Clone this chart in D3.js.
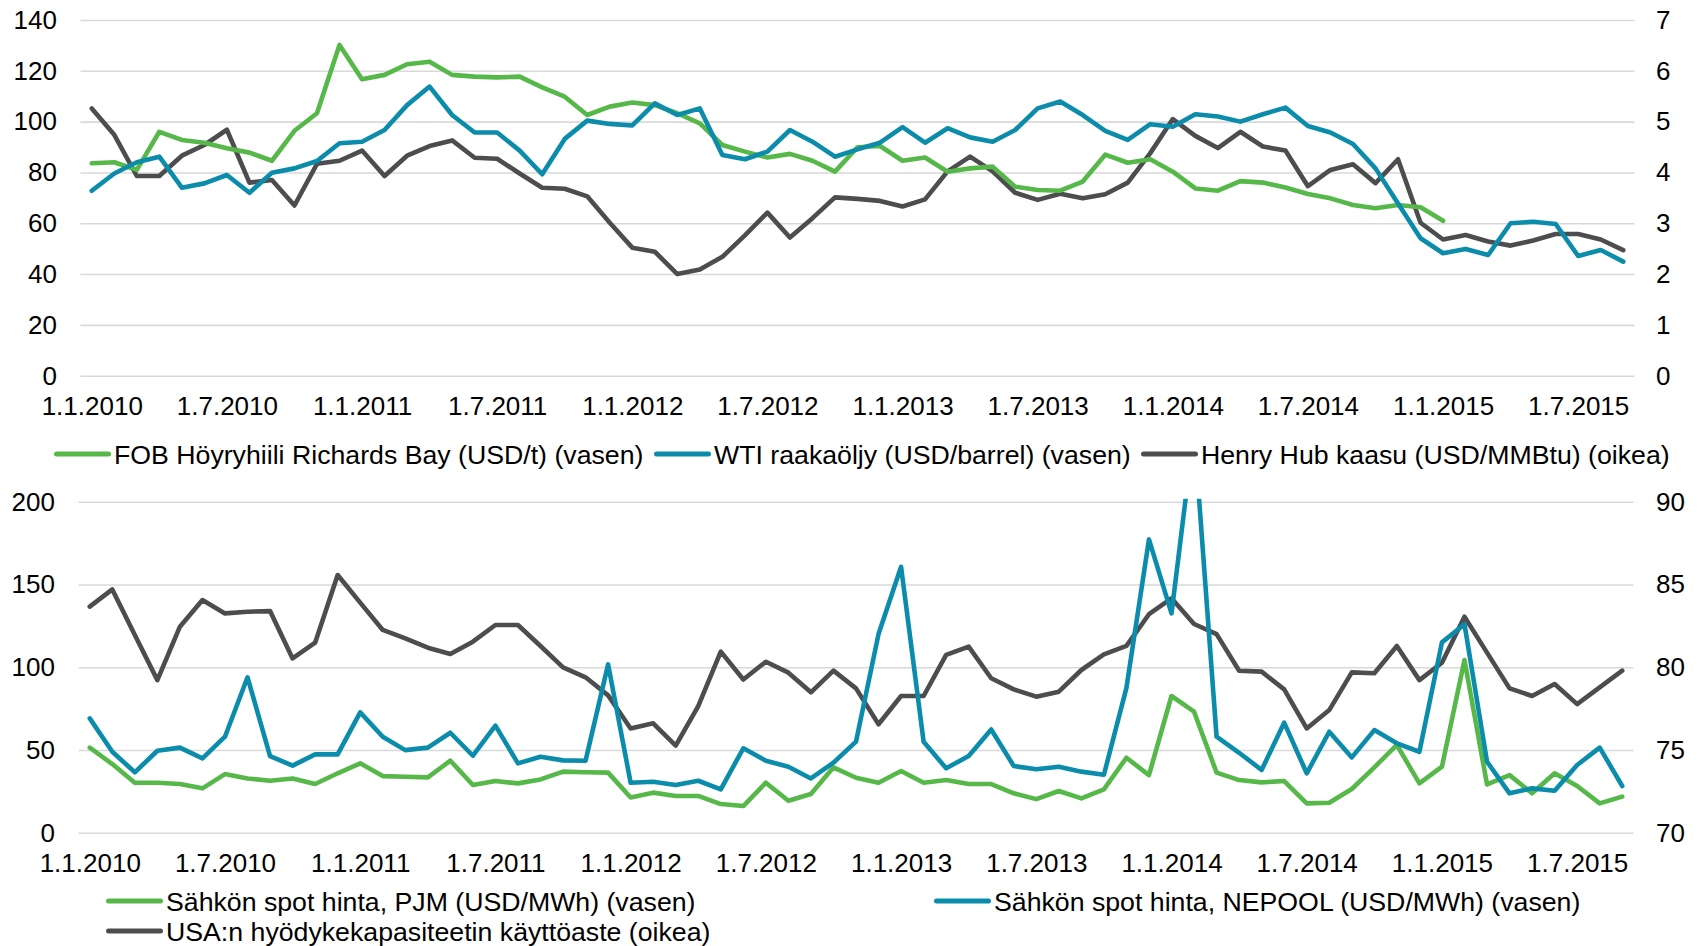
<!DOCTYPE html>
<html>
<head>
<meta charset="utf-8">
<script src="https://cdn.jsdelivr.net/npm/d3@7"></script>
<style>
  html, body { margin: 0; padding: 0; background: #fff; }
  svg { display: block; }
  text { font-family: "Liberation Sans", Arial, sans-serif; fill: #000; }
</style>
</head>
<body>
<svg id="chart" width="1701" height="946"></svg>
<script>
// Monthly observations, January 2010 - September 2015
const startMonth = new Date(2010, 0, 1);
const monthCount = 69;
const tickLabels = ["1.1.2010", "1.7.2010", "1.1.2011", "1.7.2011", "1.1.2012", "1.7.2012",
                    "1.1.2013", "1.7.2013", "1.1.2014", "1.7.2014", "1.1.2015", "1.7.2015"];

// Upper panel
const coal = [83.6, 84.0, 81.0, 96.0, 92.8, 91.7, 89.5, 87.8, 84.6, 96.4, 103.3, 130.2,
  116.7, 118.4, 122.6, 123.6, 118.4, 117.7, 117.4, 117.7, 113.5, 109.8, 102.6, 105.9,
  107.5, 106.5, 103.3, 99.3, 90.8, 88.2, 85.9, 87.3, 84.6, 80.3, 89.9, 90.4,
  84.6, 85.9, 80.3, 81.6, 82.3, 74.4, 73.1, 72.8, 76.4, 87.0, 83.8, 85.2,
  80.3, 73.7, 72.8, 76.6, 76.0, 74.1, 71.5, 69.8, 67.2, 65.9, 67.2, 66.3,
  61.0, null, null, null, null, null, null, null, null];
const wti = [72.8, 79.6, 84.0, 86.2, 74.0, 75.7, 79.0, 72.0, 79.9, 81.6, 84.5, 91.5,
  92.1, 96.7, 106.5, 113.8, 102.6, 95.7, 95.7, 88.6, 79.3, 93.2, 100.4, 99.1,
  98.5, 107.2, 102.6, 105.2, 86.9, 85.2, 88.2, 96.7, 92.1, 86.2, 89.1, 91.7,
  97.8, 91.7, 97.4, 93.8, 92.1, 96.7, 105.2, 107.9, 102.6, 96.4, 92.8, 99.0,
  98.0, 102.9, 102.0, 100.0, 102.9, 105.5, 98.3, 95.7, 91.2, 81.6, 67.8, 54.1,
  48.2, 49.9, 47.5, 60.0, 60.6, 59.7, 47.1, 49.5, 44.9];
const henryHub = [5.26, 4.74, 3.93, 3.93, 4.33, 4.54, 4.84, 3.80, 3.85, 3.35, 4.17, 4.23,
  4.43, 3.93, 4.33, 4.52, 4.63, 4.29, 4.27, 3.98, 3.70, 3.68, 3.53, 3.01,
  2.52, 2.44, 2.00, 2.09, 2.34, 2.76, 3.21, 2.72, 3.10, 3.51, 3.48, 3.44,
  3.33, 3.47, 4.02, 4.31, 4.02, 3.60, 3.46, 3.58, 3.49, 3.57, 3.80, 4.38,
  5.05, 4.72, 4.48, 4.80, 4.51, 4.43, 3.73, 4.05, 4.16, 3.79, 4.26, 3.01,
  2.68, 2.77, 2.64, 2.56, 2.66, 2.79, 2.79, 2.68, 2.47];

// Lower panel
const pjm = [51.4, 41.5, 30.2, 30.2, 29.4, 26.8, 35.4, 32.8, 31.4, 32.8, 29.4, 35.9,
  41.9, 34.2, 33.8, 33.4, 43.5, 28.8, 31.2, 29.8, 32.2, 36.9, 36.5, 36.3,
  21.3, 24.2, 22.2, 22.2, 17.3, 16.1, 30.2, 19.3, 23.4, 39.5, 33.2, 30.2,
  37.3, 30.2, 31.8, 29.4, 29.4, 23.8, 20.3, 25.2, 20.7, 26.2, 45.3, 34.8,
  82.6, 73.1, 36.3, 31.8, 30.4, 31.2, 17.7, 18.1, 26.4, 39.5, 53.0, 29.8,
  39.9, 104.3, 29.2, 34.8, 23.8, 35.9, 28.2, 17.7, 21.8];
const nepool = [69.1, 48.9, 36.5, 49.5, 51.4, 44.9, 58.0, 93.9, 46.3, 40.5, 47.3, 47.3,
  72.7, 58.0, 49.9, 51.4, 60.4, 46.5, 64.7, 41.9, 45.9, 43.7, 43.5, 101.7,
  30.2, 30.8, 28.8, 31.4, 26.2, 51.0, 43.5, 39.9, 32.8, 42.3, 55.0, 120.0,
  160.7, 55.0, 38.9, 46.3, 62.4, 40.3, 38.3, 39.9, 36.9, 35.0, 87.5, 177.2,
  132.5, 243.0, 58.0, 48.3, 37.9, 66.5, 35.9, 61.0, 45.5, 62.0, 54.0, 48.9,
  115.0, 126.0, 42.9, 23.8, 26.8, 25.4, 40.9, 51.4, 28.2];
const capacity = [83.66, 84.70, 81.94, 79.22, 82.45, 84.06, 83.25, 83.35, 83.39, 80.53, 81.48, 85.57,
  83.90, 82.25, 81.74, 81.18, 80.80, 81.54, 82.55, 82.55, 81.28, 79.99, 79.39, 78.30,
  76.30, 76.61, 75.26, 77.65, 80.94, 79.26, 80.33, 79.67, 78.48, 79.79, 78.72, 76.55,
  78.26, 78.26, 80.74, 81.24, 79.33, 78.66, 78.22, 78.52, 79.83, 80.77, 81.29, 83.20,
  84.16, 82.61, 82.00, 79.79, 79.73, 78.66, 76.30, 77.41, 79.69, 79.63, 81.28, 79.22,
  80.27, 83.05, 80.88, 78.72, 78.26, 78.98, 77.77, 78.78, 79.79];

const leftTicksTop = [0, 20, 40, 60, 80, 100, 120, 140];
const rightTicksTop = [0, 1, 2, 3, 4, 5, 6, 7];
const leftTicksBottom = [0, 50, 100, 150, 200];
const rightTicksBottom = [70, 75, 80, 85, 90];

const GREEN = "#56b849", TEAL = "#0b8cab", GRAY = "#4d4d4f";
const months = d3.timeMonth.range(startMonth, d3.timeMonth.offset(startMonth, monthCount));

const svg = d3.select("#chart");
const FONT = 26;
const LEGEND_FONT = 26.7;
const intFmt = d3.format("d");

function styleLabels(sel) {
  sel.selectAll("text").attr("font-size", FONT).attr("fill", "#000")
    .attr("font-family", "Liberation Sans, Arial, sans-serif");
}

function panel(cfg) {
  const g = svg.append("g");
  const x = d3.scalePoint().domain(d3.range(monthCount)).range([cfg.left, cfg.right]).padding(0.5);
  const yL = d3.scaleLinear().domain(cfg.leftDomain).range([cfg.bottom, cfg.top]);
  const yR = d3.scaleLinear().domain(cfg.rightDomain).range([cfg.bottom, cfg.top]);

  // horizontal gridlines
  const grid = g.append("g")
    .attr("transform", `translate(${cfg.left},0)`)
    .call(d3.axisLeft(yL).tickValues(cfg.leftTicks).tickSize(-(cfg.right - cfg.left)).tickFormat(""));
  grid.select(".domain").remove();
  grid.selectAll(".tick line").attr("stroke", "#d9d9d9").attr("stroke-width", 1.6);

  // left axis labels
  const la = g.append("g").attr("transform", `translate(${cfg.left},0)`)
    .call(d3.axisLeft(yL).tickValues(cfg.leftTicks).tickFormat(intFmt)
      .tickSize(0).tickPadding(cfg.left - cfg.leftLabelX));
  la.select(".domain").remove();
  styleLabels(la);

  // right axis labels
  const ra = g.append("g").attr("transform", `translate(${cfg.right},0)`)
    .call(d3.axisRight(yR).tickValues(cfg.rightTicks).tickFormat(intFmt)
      .tickSize(0).tickPadding(cfg.rightLabelX - cfg.right));
  ra.select(".domain").remove();
  styleLabels(ra);

  // category axis labels every six months
  const xa = g.append("g").attr("transform", `translate(0,${cfg.bottom})`)
    .call(d3.axisBottom(x)
      .tickValues(tickLabels.map((_, k) => k * 6))
      .tickSize(0)
      .tickPadding(cfg.xLabelPad)
      .tickFormat((d) => tickLabels[d / 6]));
  xa.select(".domain").remove();
  styleLabels(xa);

  const clipId = "clip" + cfg.id;
  svg.append("clipPath").attr("id", clipId).append("rect")
    .attr("x", cfg.left - 10).attr("y", cfg.top - 3)
    .attr("width", cfg.right - cfg.left + 20).attr("height", cfg.bottom - cfg.top + 10);

  const plot = g.append("g").attr("clip-path", `url(#${clipId})`);
  cfg.series.forEach((s) => {
    const y = s.axis === "right" ? yR : yL;
    const line = d3.line()
      .defined((d) => d != null)
      .x((d, i) => x(i))
      .y((d) => y(d));
    plot.append("path")
      .datum(s.values)
      .attr("fill", "none")
      .attr("stroke", s.color)
      .attr("stroke-width", 4.6)
      .attr("stroke-linejoin", "round")
      .attr("stroke-linecap", "round")
      .attr("d", line);
  });
}

panel({
  id: "top", left: 80.5, right: 1634.5, top: 20, bottom: 375.7,
  leftDomain: [0, 140], rightDomain: [0, 7],
  leftTicks: leftTicksTop, rightTicks: rightTicksTop,
  leftLabelX: 57, rightLabelX: 1656, xLabelPad: 21,
  series: [
    { values: henryHub, color: GRAY, axis: "right" },
    { values: coal, color: GREEN, axis: "left" },
    { values: wti, color: TEAL, axis: "left" }
  ]
});

panel({
  id: "bottom", left: 78.5, right: 1633.5, top: 501.7, bottom: 832.7,
  leftDomain: [0, 200], rightDomain: [70, 90],
  leftTicks: leftTicksBottom, rightTicks: rightTicksBottom,
  leftLabelX: 55, rightLabelX: 1656, xLabelPad: 21,
  series: [
    { values: capacity, color: GRAY, axis: "right" },
    { values: pjm, color: GREEN, axis: "left" },
    { values: nepool, color: TEAL, axis: "left" }
  ]
});

// legends
const legendItems = [
  { label: "FOB Höyryhiili Richards Bay (USD/t) (vasen)", color: GREEN, x: 54, y: 454 },
  { label: "WTI raakaöljy (USD/barrel) (vasen)", color: TEAL, x: 654, y: 454 },
  { label: "Henry Hub kaasu (USD/MMBtu) (oikea)", color: GRAY, x: 1141, y: 454 },
  { label: "Sähkön spot hinta, PJM (USD/MWh) (vasen)", color: GREEN, x: 106, y: 901 },
  { label: "Sähkön spot hinta, NEPOOL (USD/MWh) (vasen)", color: TEAL, x: 934, y: 901 },
  { label: "USA:n hyödykekapasiteetin käyttöaste (oikea)", color: GRAY, x: 106, y: 931 }
];
const lg = svg.append("g");
const item = lg.selectAll("g").data(legendItems).join("g")
  .attr("transform", (d) => `translate(${d.x},${d.y})`);
item.append("line")
  .attr("x1", 2.5).attr("x2", 54.5).attr("y1", 0).attr("y2", 0)
  .attr("stroke", (d) => d.color).attr("stroke-width", 5).attr("stroke-linecap", "round");
item.append("text")
  .attr("x", 60).attr("y", 9.5)
  .attr("font-size", LEGEND_FONT)
  .text((d) => d.label);
</script>
</body>
</html>
